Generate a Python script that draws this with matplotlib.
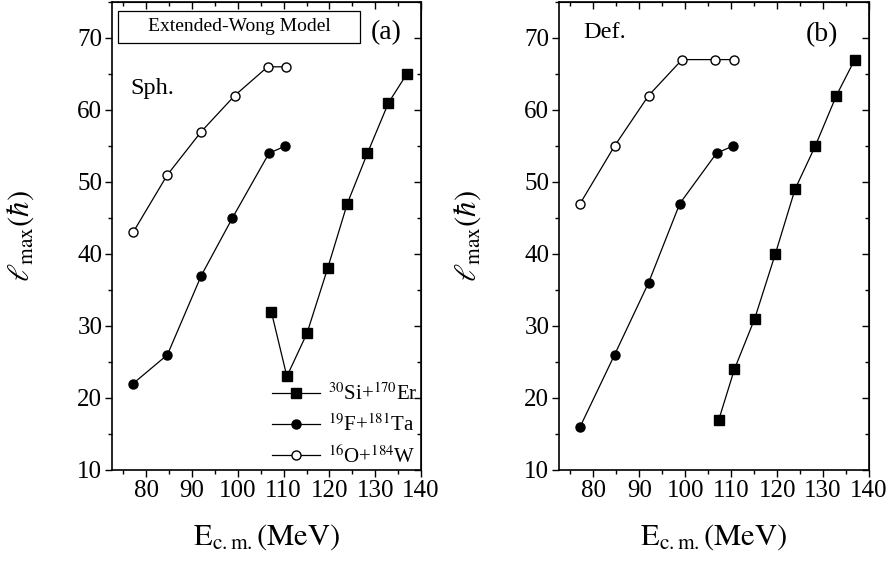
import matplotlib
matplotlib.use("Agg")
import matplotlib.pyplot as plt
from matplotlib.patches import Rectangle
from matplotlib.ticker import MultipleLocator

plt.rcParams["font.family"] = ["Liberation Serif", "DejaVu Serif"]
plt.rcParams["mathtext.fontset"] = "stix"

# E_cm (MeV) for each reaction
e_si = [107.3, 110.7, 115.1, 119.6, 123.9, 128.3, 132.9, 136.9]
e_f = [77.1, 84.6, 92.0, 98.8, 106.8, 110.4]
e_o = [77.1, 84.6, 92.0, 99.3, 106.5, 110.5]

# l_max values, spherical nuclei
lmax_si_sph = [32, 23, 29, 38, 47, 54, 61, 65]
lmax_f_sph = [22, 26, 37, 45, 54, 55]
lmax_o_sph = [43, 51, 57, 62, 66, 66]

# l_max values, deformed nuclei
lmax_si_def = [17, 24, 31, 40, 49, 55, 62, 67]
lmax_f_def = [16, 26, 36, 47, 54, 55]
lmax_o_def = [47, 55, 62, 67, 67, 67]

labels = [r"$^{30}$Si+$^{170}$Er", r"$^{19}$F+$^{181}$Ta", r"$^{16}$O+$^{184}$W"]

W, H = 890, 561
fig = plt.figure(figsize=(W / 100, H / 100), dpi=100)
ax1 = fig.add_axes([112 / W, (H - 470) / H, (421 - 112) / W, (470 - 2) / H])
ax2 = fig.add_axes([559 / W, (H - 470) / H, (869 - 559) / W, (470 - 2) / H])


def set_ticks(axis):
    axis.set_major_locator(MultipleLocator(10))
    axis.set_minor_locator(MultipleLocator(5))


def draw(ax, si, f, o):
    kw = dict(color="black", lw=0.9, ms=6.5, mec="black")
    ax.plot(e_si, si, marker="s", mfc="black", label=labels[0], **kw)
    ax.plot(e_f, f, marker="o", mfc="black", label=labels[1], **kw)
    ax.plot(e_o, o, marker="o", mfc="white", label=labels[2], **kw)
    ax.set_xlim(72.5, 140)
    ax.set_ylim(10, 75)
    set_ticks(ax.xaxis)
    set_ticks(ax.yaxis)
    ax.set_xticks([80, 90, 100, 110, 120, 130, 140])
    ax.tick_params(which="both", direction="out", top=False, right=False,
                   labelsize=18, width=1)
    ax.tick_params(which="major", length=5, pad=2)
    ax.tick_params(which="minor", length=3)
    # inward ticks mirrored on top and right
    sx = ax.secondary_xaxis("top")
    set_ticks(sx.xaxis)
    sx.tick_params(which="both", direction="in", labeltop=False, width=1)
    sx.tick_params(which="major", length=5)
    sx.tick_params(which="minor", length=3)
    sy = ax.secondary_yaxis("right")
    set_ticks(sy.yaxis)
    sy.tick_params(which="both", direction="in", labelright=False, width=1)
    sy.tick_params(which="major", length=5)
    sy.tick_params(which="minor", length=3)
    for s in ax.spines.values():
        s.set_linewidth(1.2)
    ax.set_xlabel(r"$\mathrm{E}_{\mathrm{c{.}m{.}}}\mathrm{(MeV)}$", fontsize=22)
    ax.set_ylabel(r"$\ell_{\rm max}(\hbar)$", fontsize=22)
    ax.xaxis.set_label_coords(0.5, -0.112)
    ax.yaxis.set_label_coords(-0.245, 0.5)


draw(ax1, lmax_si_sph, lmax_f_sph, lmax_o_sph)
draw(ax2, lmax_si_def, lmax_f_def, lmax_o_def)

ax1.add_patch(Rectangle((0.019, 0.912), 0.784, 0.069, transform=ax1.transAxes,
                        fc="white", ec="black", lw=0.9, zorder=3))
ax1.text(0.413, 0.947, "Extended-Wong Model", transform=ax1.transAxes,
         fontsize=14, ha="center", va="center", zorder=4)
ax1.text(0.887, 0.934, "(a)", transform=ax1.transAxes, fontsize=20,
         ha="center", va="center")
ax1.text(0.061, 0.816, "Sph.", transform=ax1.transAxes, fontsize=17.5,
         ha="left", va="center")
ax2.text(0.077, 0.934, "Def.", transform=ax2.transAxes, fontsize=17.5,
         ha="left", va="center")
ax2.text(0.848, 0.931, "(b)", transform=ax2.transAxes, fontsize=20,
         ha="center", va="center")

ax1.legend(loc="lower right", bbox_to_anchor=(0.99, 0.005), frameon=False,
           fontsize=15, handlelength=2.3, handletextpad=0.4, labelspacing=0.45,
           borderaxespad=0.0, borderpad=0.0)

fig.savefig("out.png", dpi=100)
